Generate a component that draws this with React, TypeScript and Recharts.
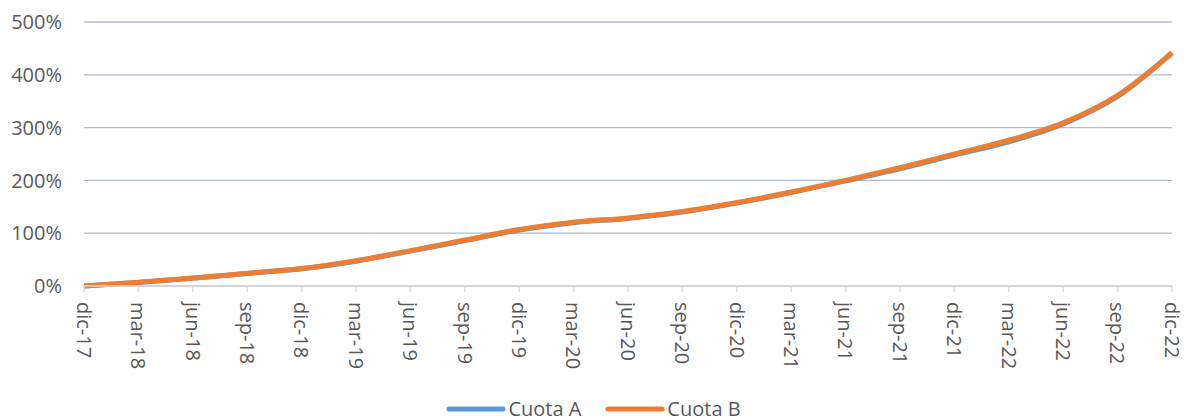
import React from 'react'
import {LineChart, Line, XAxis, YAxis, CartesianGrid, Legend} from 'recharts'

const periods = [
  'dic-17', 'mar-18', 'jun-18', 'sep-18', 'dic-18', 'mar-19', 'jun-19',
  'sep-19', 'dic-19', 'mar-20', 'jun-20', 'sep-20', 'dic-20', 'mar-21',
  'jun-21', 'sep-21', 'dic-21', 'mar-22', 'jun-22', 'sep-22', 'dic-22',
]
const cuotaA = [
  0, 6.5, 14.5, 23.5, 32.5, 47, 66, 86, 106, 120, 128, 140, 157, 177, 199,
  222, 248, 273, 307, 359, 441,
]
const cuotaB = [
  0, 7, 15, 24, 33, 48, 67, 87, 107, 121, 129, 141, 158, 178, 200, 224, 250,
  276, 309, 361, 442,
]
const yTicks = [0, 100, 200, 300, 400, 500]

const data = periods.map((p, i) => ({period: p, a: cuotaA[i], b: cuotaB[i]}))

const FONT = '"Open Sans", sans-serif'
const TEXT = '#595959'
const BLUE = '#5B9BD5'
const ORANGE = '#ED7D31'

function PeriodTick({x, y, payload}: any) {
  return (
    <g transform={`translate(${x},${y})`}>
      <text
        transform="rotate(90)"
        x={8}
        dy="0.36em"
        textAnchor="start"
        fill={TEXT}
        fontSize={20}
        fontFamily={FONT}
      >
        {payload.value}
      </text>
    </g>
  )
}

function LegendBox() {
  const items = [
    {name: 'Cuota A', color: BLUE},
    {name: 'Cuota B', color: ORANGE},
  ]
  return (
    <div
      style={{
        display: 'flex',
        justifyContent: 'center',
        paddingLeft: 15,
        marginTop: 20,
        height: 18,
        lineHeight: '18px',
        fontFamily: FONT,
        fontSize: 20,
        color: TEXT,
      }}
    >
      {items.map((it, i) => (
        <div
          key={it.name}
          style={{display: 'flex', alignItems: 'center', marginLeft: i ? 24 : 0}}
        >
          <svg width={60} height={10}>
            <line
              x1={3}
              y1={5}
              x2={57}
              y2={5}
              stroke={it.color}
              strokeWidth={5}
              strokeLinecap="round"
            />
          </svg>
          <span style={{marginLeft: 2}}>{it.name}</span>
        </div>
      ))}
    </div>
  )
}

export default function App() {
  return (
    <div>
      <style>{'body{margin:0}'}</style>
      <LineChart
        width={1184}
        height={420}
        data={data}
        margin={{top: 22, right: 12, left: 0, bottom: 0}}
      >
        <CartesianGrid vertical={false} stroke="#B0BBCD" strokeWidth={1.3} />
        <XAxis
          dataKey="period"
          interval={0}
          height={94}
          tickSize={6}
          tickMargin={2}
          stroke="#D9D9D9"
          tickLine={{stroke: '#D9D9D9', strokeWidth: 1.5}}
          axisLine={{stroke: '#D9D9D9', strokeWidth: 1.5}}
          tick={<PeriodTick />}
        />
        <YAxis
          width={84}
          domain={[0, 500]}
          ticks={yTicks}
          axisLine={false}
          tickLine={false}
          tickMargin={16}
          tickFormatter={(v) => `${v}%`}
          tick={{fill: TEXT, fontSize: 20, fontFamily: FONT}}
        />
        <Legend verticalAlign="bottom" height={40} content={<LegendBox />} />
        <Line
          type="monotone"
          dataKey="a"
          name="Cuota A"
          stroke={BLUE}
          strokeWidth={5}
          dot={false}
          isAnimationActive={false}
        />
        <Line
          type="monotone"
          dataKey="b"
          name="Cuota B"
          stroke={ORANGE}
          strokeWidth={5}
          dot={false}
          isAnimationActive={false}
        />
      </LineChart>
    </div>
  )
}
